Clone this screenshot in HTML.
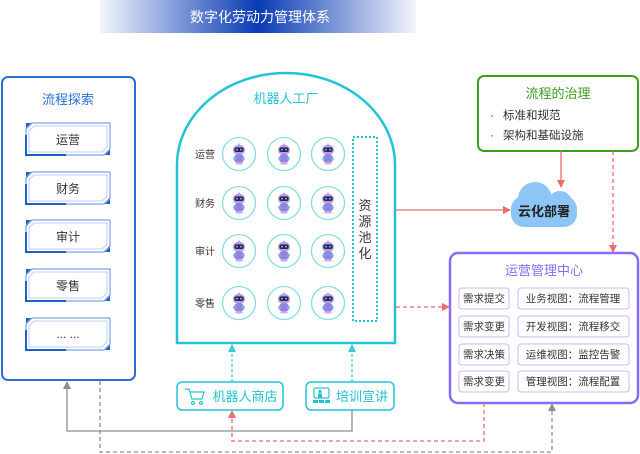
<!DOCTYPE html>
<html><head><meta charset="utf-8"><style>
html,body{margin:0;padding:0;background:#fff;}
body{width:640px;height:454px;overflow:hidden;}
svg{display:block;font-family:"Liberation Sans","Noto Sans CJK SC",sans-serif;}
</style></head><body>
<svg width="640" height="454" viewBox="0 0 640 454" xmlns="http://www.w3.org/2000/svg">
<defs>
<linearGradient id="tg" x1="0" x2="1" y1="0" y2="0">
<stop offset="0" stop-color="#0a3bb5" stop-opacity="0.05"/>
<stop offset="0.5" stop-color="#0a3bb5" stop-opacity="1"/>
<stop offset="1" stop-color="#0a3bb5" stop-opacity="0.05"/>
</linearGradient>
<marker id="ar" markerWidth="8" markerHeight="8" refX="7" refY="4" orient="auto" markerUnits="userSpaceOnUse"><path d="M0,0 L8,4 L0,8 Z" fill="#f06b6b"/></marker>
<marker id="ag" markerWidth="8" markerHeight="8" refX="7" refY="4" orient="auto" markerUnits="userSpaceOnUse"><path d="M0,0 L8,4 L0,8 Z" fill="#8f8f8f"/></marker>
<marker id="ac" markerWidth="8" markerHeight="8" refX="7" refY="4" orient="auto" markerUnits="userSpaceOnUse"><path d="M0,0 L8,4 L0,8 Z" fill="#3cc8d8"/></marker>
<g id="item">
<path d="M6,0 H84 V26 L78,32 H0 V6 Z" fill="#fff" stroke="#5b90dc" stroke-width="1"/>
<path d="M8,3 H81 V24 L76,29 H3 V8 Z" fill="none" stroke="#b8d0f2" stroke-width="1"/>
<path d="M0,12 V32 H40" fill="none" stroke="#1f5fc8" stroke-width="2"/>
<path d="M0,0 H5 L0,5 Z" fill="#1f5fc8"/>
<path d="M84,32 H79 L84,27 Z" fill="#1f5fc8"/>
</g>
<g id="robot">
<circle cx="0" cy="0" r="16.5" fill="#fff" stroke="#86dde6" stroke-width="1.3"/>
<path d="M0,-11 L1.5,-8.5 L-1.5,-8.5 Z" fill="#b49ae6"/>
<ellipse cx="0" cy="-4" rx="6" ry="5.2" fill="#b89ee8"/>
<rect x="-4.6" y="-6.6" width="9.2" height="4.6" rx="2" fill="#2b2452"/>
<circle cx="-2" cy="-4.3" r="0.9" fill="#6fd6f0"/>
<circle cx="2" cy="-4.3" r="0.9" fill="#6fd6f0"/>
<ellipse cx="0" cy="4.5" rx="5.2" ry="4.6" fill="#9a80de"/>
<circle cx="-4.3" cy="4.5" r="1.5" fill="#5fb9ee"/>
<circle cx="4.3" cy="4.5" r="1.5" fill="#5fb9ee"/>
<ellipse cx="0" cy="9.5" rx="4" ry="1.2" fill="#c7b5ef"/>
</g>
</defs>

<!-- title banner -->
<rect x="100" y="0" width="316" height="33" fill="url(#tg)"/>
<text x="260" y="22" font-size="14" fill="#fff" text-anchor="middle">数字化劳动力管理体系</text>

<!-- left panel -->
<rect x="2" y="77" width="133" height="303" rx="6" fill="#fff" stroke="#2a6fd6" stroke-width="2"/>
<text x="68" y="104" font-size="13" fill="#2a6fd6" text-anchor="middle">流程探索</text>
<use href="#item" x="26" y="123"/>
<use href="#item" x="26" y="172"/>
<use href="#item" x="26" y="220"/>
<use href="#item" x="26" y="269"/>
<use href="#item" x="26" y="318"/>
<g font-size="12" fill="#333" text-anchor="middle">
<text x="68" y="144">运营</text>
<text x="68" y="193">财务</text>
<text x="68" y="241">审计</text>
<text x="68" y="290">零售</text>
<text x="68" y="338">... ...</text>
</g>

<!-- factory -->
<path d="M177,343 L177,165 A109,92 0 0 1 395,165 L395,343 Z" fill="#fff" stroke="#22c3d6" stroke-width="2.5"/>
<text x="286" y="103" font-size="13" fill="#22c3d6" text-anchor="middle">机器人工厂</text>
<g font-size="10" fill="#333" text-anchor="middle">
<text x="205" y="158">运营</text>
<text x="205" y="207">财务</text>
<text x="205" y="255">审计</text>
<text x="205" y="307">零售</text>
</g>
<use href="#robot" x="239" y="154"/><use href="#robot" x="284" y="154"/><use href="#robot" x="328" y="154"/>
<use href="#robot" x="239" y="203"/><use href="#robot" x="284" y="203"/><use href="#robot" x="328" y="203"/>
<use href="#robot" x="239" y="251"/><use href="#robot" x="284" y="251"/><use href="#robot" x="328" y="251"/>
<use href="#robot" x="239" y="303"/><use href="#robot" x="284" y="303"/><use href="#robot" x="328" y="303"/>
<rect x="353" y="137" width="24" height="184" fill="none" stroke="#22c3d6" stroke-width="2" stroke-dasharray="2,2"/>
<g font-size="13" fill="#333" text-anchor="middle">
<text x="365" y="210">资</text>
<text x="365" y="226">源</text>
<text x="365" y="242">池</text>
<text x="365" y="258">化</text>
</g>

<!-- governance -->
<rect x="478" y="76" width="160" height="75" rx="6" fill="#fff" stroke="#3c9e1e" stroke-width="2"/>
<text x="558" y="98" font-size="13" fill="#3c9e1e" text-anchor="middle">流程的治理</text>
<g font-size="11.5" fill="#333">
<text x="490" y="119">·</text><text x="503" y="119">标准和规范</text>
<text x="490" y="139">·</text><text x="503" y="139">架构和基础设施</text>
</g>

<!-- cloud -->
<g fill="#8ec5f7">
<rect x="511" y="196" width="66" height="31" rx="13"/>
<circle cx="535" cy="199" r="17"/>
<circle cx="560" cy="203" r="12"/>
</g>
<text x="544" y="216" font-size="13" fill="#222" text-anchor="middle" font-weight="bold">云化部署</text>

<!-- ops center -->
<rect x="450" y="253" width="188" height="150" rx="8" fill="#fff" stroke="#8a6cf7" stroke-width="2.5"/>
<text x="544" y="275" font-size="13" fill="#8a6cf7" text-anchor="middle">运营管理中心</text>
<g fill="#fff" stroke="#c9b8f5" stroke-width="1">
<rect x="459" y="288" width="50" height="21" rx="3"/>
<rect x="459" y="316" width="50" height="21" rx="3"/>
<rect x="459" y="344" width="50" height="21" rx="3"/>
<rect x="459" y="371" width="50" height="21" rx="3"/>
<rect x="518" y="288" width="111" height="21" rx="3"/>
<rect x="518" y="316" width="111" height="21" rx="3"/>
<rect x="518" y="344" width="111" height="21" rx="3"/>
<rect x="518" y="371" width="111" height="21" rx="3"/>
</g>
<g font-size="10.5" fill="#333" text-anchor="middle">
<text x="484" y="302">需求提交</text>
<text x="484" y="330">需求变更</text>
<text x="484" y="358">需求决策</text>
<text x="484" y="385">需求变更</text>
<text x="573" y="302">业务视图：流程管理</text>
<text x="573" y="330">开发视图：流程移交</text>
<text x="573" y="358">运维视图：监控告警</text>
<text x="573" y="385">管理视图：流程配置</text>
</g>

<!-- shop & training -->
<rect x="177" y="382" width="106" height="28" rx="5" fill="#fff" stroke="#22c3d6" stroke-width="1.5"/>
<g fill="none" stroke="#22c3d6" stroke-width="1.2">
<path d="M185,389 H189 L192,399 H202 L204,392 H190"/>
<circle cx="193" cy="403" r="1.5"/><circle cx="201" cy="403" r="1.5"/>
</g>
<text x="245" y="401" font-size="13" fill="#22c3d6" text-anchor="middle">机器人商店</text>
<rect x="306" y="382" width="88" height="28" rx="5" fill="#fff" stroke="#22c3d6" stroke-width="1.5"/>
<rect x="314" y="388" width="15" height="10" rx="1.5" fill="none" stroke="#22c3d6" stroke-width="1.2"/>
<circle cx="320" cy="391.5" r="1.6" fill="#22c3d6"/>
<rect x="318" y="393.5" width="4" height="4" fill="#22c3d6"/>
<rect x="313" y="400" width="5" height="3" fill="#22c3d6"/><rect x="319" y="400" width="5" height="3" fill="#22c3d6"/><rect x="325" y="400" width="5" height="3" fill="#22c3d6"/>
<text x="362" y="401" font-size="13" fill="#22c3d6" text-anchor="middle">培训宣讲</text>

<!-- connectors -->
<line x1="232" y1="382" x2="232" y2="345" stroke="#3cc8d8" stroke-width="1.2" stroke-dasharray="3,2" marker-end="url(#ac)"/>
<line x1="352" y1="382" x2="352" y2="345" stroke="#3cc8d8" stroke-width="1.2" stroke-dasharray="3,2" marker-end="url(#ac)"/>
<line x1="396" y1="210" x2="510" y2="210" stroke="#f06b6b" stroke-width="1.3" marker-end="url(#ar)"/>
<line x1="396" y1="307" x2="449" y2="307" stroke="#f06b6b" stroke-width="1.3" stroke-dasharray="4,3" marker-end="url(#ar)"/>
<line x1="561" y1="151" x2="561" y2="187" stroke="#f06b6b" stroke-width="1.3" marker-end="url(#ar)"/>
<line x1="613" y1="151" x2="613" y2="252" stroke="#f06b6b" stroke-width="1.3" stroke-dasharray="4,3" marker-end="url(#ar)"/>
<polyline points="352,410 352,431 67,431 67,382" fill="none" stroke="#8f8f8f" stroke-width="1.3" marker-end="url(#ag)"/>
<polyline points="484,403 484,441 232,441 232,411" fill="none" stroke="#f06b6b" stroke-width="1.3" stroke-dasharray="4,3" marker-end="url(#ar)"/>
<polyline points="100,381 100,452 552,452 552,404" fill="none" stroke="#8f8f8f" stroke-width="1.3" stroke-dasharray="4,3" marker-end="url(#ag)"/>
</svg>
</body></html>
